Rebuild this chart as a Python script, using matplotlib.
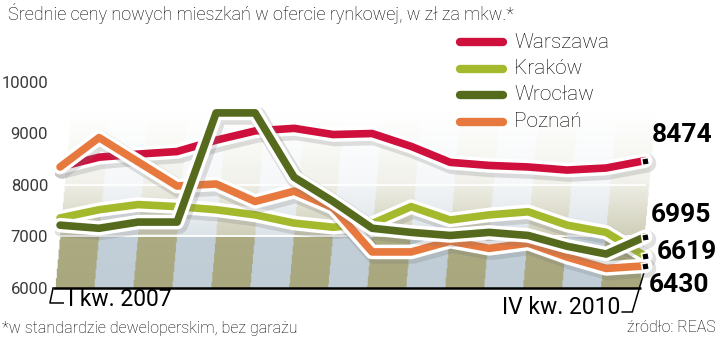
import numpy as np
import matplotlib
matplotlib.use("Agg")
import matplotlib.pyplot as plt
import matplotlib.patheffects as pe
from matplotlib.lines import Line2D

quarters = ["I kw. 2007", "II kw. 2007", "III kw. 2007", "IV kw. 2007",
            "I kw. 2008", "II kw. 2008", "III kw. 2008", "IV kw. 2008",
            "I kw. 2009", "II kw. 2009", "III kw. 2009", "IV kw. 2009",
            "I kw. 2010", "II kw. 2010", "III kw. 2010", "IV kw. 2010"]
warszawa = [8350, 8540, 8600, 8650, 8870, 9050, 9100, 8980, 9000, 8750, 8440, 8380, 8350, 8290, 8330, 8474]
krakow = [7360, 7520, 7620, 7580, 7520, 7420, 7260, 7180, 7250, 7580, 7320, 7420, 7480, 7220, 7080, 6619]
wroclaw = [7220, 7160, 7280, 7280, 9400, 9400, 8150, 7680, 7160, 7080, 7020, 7080, 7020, 6810, 6660, 6995]
poznan = [8350, 8920, 8450, 7980, 8020, 7680, 7880, 7560, 6700, 6700, 6910, 6770, 6870, 6600, 6380, 6430]
yticks = [6000, 7000, 8000, 9000, 10000]

names = ["Warszawa", "Kraków", "Wrocław", "Poznań"]
colors = ["#cf0f3c", "#a4b92c", "#566a1e", "#e8793e"]

W, H = 720, 350
fig = plt.figure(figsize=(7.2, 3.5), dpi=100)
ax = fig.add_axes([55 / W, 62 / H, 605 / W, 206 / H])
ax.set_xlim(-0.13, 15.38)
ax.set_ylim(6000, 10000)
for s in ax.spines.values():
    s.set_visible(False)
ax.set_xticks([])
ax.set_yticks(yticks)
ax.set_yticklabels([str(v) for v in yticks], family="Roboto", fontsize=12, color="#3a3a3a")
ax.tick_params(axis="y", length=0, pad=5)


def px(x, y):
    return x / W, 1 - y / H


# striped floor, fading to white upwards
x0, x1 = -0.13, 14.87
ny, nx = 240, 700
ys = np.linspace(6000, 9500, ny)
xs = np.linspace(x0, x1 + 0.5, nx)
XX, YY = np.meshgrid(xs, ys)
u = XX - 0.12 * (YY - 6000) / 1000
k = np.floor(u - x0).astype(int)
olive = np.array([168, 167, 125]) / 255
bluish = np.array([192, 205, 214]) / 255
img = np.where((k % 2 == 0)[..., None], olive, bluish)
f = np.where(YY < 7000, 0.04 * (YY - 6000) / 1000,
             np.where(YY < 8000, 0.45 + 0.35 * (YY - 7000) / 1000,
                      np.clip(0.84 + 0.16 * (YY - 8000) / 1400, 0, 1)))
img = img * (1 - f[..., None]) + f[..., None]
alpha = ((u >= x0) & (u <= x1)).astype(float)
rgba = np.dstack([img, alpha])
ax.imshow(rgba, extent=[x0, x1 + 0.5, 6000, 9500], origin="lower", aspect="auto", zorder=0,
          interpolation="bilinear")
ax.hlines([7000, 8000], x0 + 0.05, x1 + 0.15, color="white", lw=1.3, zorder=1)

# baseline and brackets
ax.hlines(6000, -0.18, 14.9, color="black", lw=1.8, zorder=2, clip_on=False)
ax.plot([-0.18, -0.26, 0.08], [6000, 5709, 5709], color="black", lw=1.1, clip_on=False)
ax.plot([15, 14.67, 14.41], [6380, 5534, 5534], color="black", lw=1.1, clip_on=False)
ax.text(0.2, 5767, quarters[0], family="Roboto", fontsize=16.5, va="center", ha="left")
ax.text(14.36, 5612, quarters[-1], family="Roboto", fontsize=16.5, va="center", ha="right")

x = np.arange(len(quarters))
series = [warszawa, krakow, wroclaw, poznan]
order = [1, 0, 3, 2]
for z, i in enumerate(order):
    ax.plot(x, series[i], color=colors[i], lw=5.5, solid_joinstyle="round",
            solid_capstyle="round", zorder=3 + z,
            path_effects=[pe.SimpleLineShadow(offset=(1.5, -2), shadow_color="0.45", alpha=0.22, linewidth=13),
                          pe.Stroke(linewidth=10.5, foreground="white"), pe.Normal()])

# end markers and labels
offsets = {0: (7, 26), 2: (6, 22), 1: (12, 4), 3: (4, -19)}
for i in [0, 2, 1, 3]:
    ax.plot(x[-1], series[i][-1], marker=(4, 0, 55), ms=7, color="black", mec="white", mew=1.2,
            zorder=10)
    ax.annotate(str(series[i][-1]), (x[-1], series[i][-1]), xytext=offsets[i],
                textcoords="offset pixels", family="Roboto", fontweight="bold", fontsize=19,
                va="center", ha="left", annotation_clip=False)

# legend
for j, (name, c) in enumerate(zip(names, colors)):
    yy = 42 + j * 26.5
    fig.add_artist(Line2D([px(460, yy)[0], px(503, yy)[0]], [px(0, yy)[1]] * 2, color=c, lw=6,
                          solid_capstyle="round"))
    fig.text(*px(514, yy), name, family="Roboto", fontweight="light", fontsize=15, va="center",
             ha="left", color="black")

fig.text(*px(8, 13), "Średnie ceny nowych mieszkań w ofercie rynkowej, w zł za mkw.*", family="Roboto",
         fontweight="light", fontsize=13, va="center", ha="left", color="black")
fig.text(*px(2, 328), "*w standardzie deweloperskim, bez garażu", family="Roboto", fontweight="light",
         fontsize=11.5, va="center", ha="left", color="black")
fig.text(*px(716, 328), "źródło: REAS", family="Roboto", fontweight="light", fontsize=11.5,
         va="center", ha="right", color="black")

fig.savefig("out.png", dpi=100)
